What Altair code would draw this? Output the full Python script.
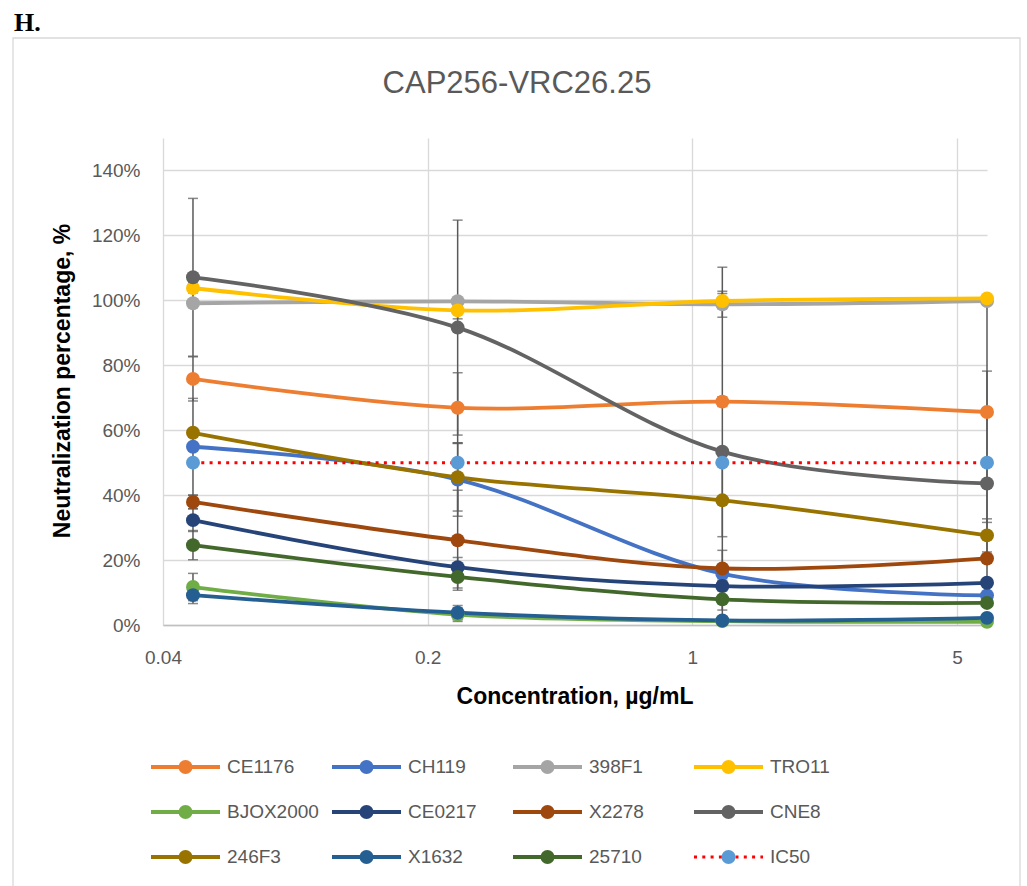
import altair as alt
import pandas as pd

# ---------------- data ----------------
chart_title = "CAP256-VRC26.25"
panel_label = "H."
x_title = "Concentration, µg/mL"
y_title = "Neutralization percentage, %"

names = ["CE1176", "CH119", "398F1", "TRO11", "BJOX2000", "CE0217",
         "X2278", "CNE8", "246F3", "X1632", "25710", "IC50"]
colors = ["#ED7D31", "#4472C4", "#A5A5A5", "#FFC000", "#70AD47", "#264478",
          "#9E480E", "#636363", "#997300", "#255E91", "#43682B", "#5B9BD5"]

conc = [0.048, 0.24, 1.2, 6]

values = {
    "CE1176":   [75.8, 66.9, 68.8, 65.6],
    "CH119":    [54.9, 44.8, 15.8, 9.1],
    "398F1":    [99.1, 99.7, 98.8, 99.8],
    "TRO11":    [103.8, 96.9, 99.8, 100.6],
    "BJOX2000": [11.7, 3.2, 1.2, 1.0],
    "CE0217":   [32.3, 17.8, 12.0, 13.0],
    "X2278":    [37.9, 26.1, 17.4, 20.5],
    "CNE8":     [107.1, 91.6, 53.4, 43.6],
    "246F3":    [59.2, 45.5, 38.4, 27.6],
    "X1632":    [9.2, 3.8, 1.4, 2.2],
    "25710":    [24.6, 14.8, 7.9, 6.8],
    "IC50":     [50, 50, 50, 50],
}

sds = {
    "CE1176":   [6.8, 10.8, 1.5, 34.0],
    "CH119":    [14.9, 11.3, 2.0, 1.0],
    "398F1":    [1.0, 0.8, 4.0, 1.0],
    "TRO11":    [1.5, 2.6, 2.3, 1.0],
    "BJOX2000": [4.2, 2.1, 0.5, 0.5],
    "CE0217":   [3.5, 3.0, 1.5, 1.0],
    "X2278":    [2.1, 15.4, 5.6, 1.2],
    "CNE8":     [24.3, 33.1, 56.8, 34.6],
    "246F3":    [1.0, 10.4, 11.2, 5.1],
    "X1632":    [2.6, 2.2, 0.5, 0.5],
    "25710":    [4.5, 3.4, 3.3, 1.0],
    "IC50":     [0, 0, 0, 0],
}

x_ticks = [0.04, 0.2, 1, 5]
y_ticks = [0, 0.2, 0.4, 0.6, 0.8, 1.0, 1.2, 1.4]

# ---------------- tables ----------------
rows, caps = [], []
for i, n in enumerate(names):
    for j, c in enumerate(conc):
        v = values[n][j] / 100.0
        sd = sds[n][j] / 100.0
        rows.append(dict(series=n, order=i, conc=c, v=v,
                         lo=max(v - sd, 0.0), hi=min(v + sd, 1.5)))
        if sd > 0:
            for cv in (v - sd, v + sd):
                if 0 <= cv <= 1.5:
                    caps.append(dict(series=n, conc=c, cap=cv))
df = pd.DataFrame(rows)
cap_df = pd.DataFrame(caps)
err_df = df[df.series != "IC50"]
leg_df = pd.DataFrame({"series": names,
                       "col": [i % 4 for i in range(len(names))],
                       "row": [i // 4 for i in range(len(names))]})

FONT = "Liberation Sans"
GREY_TXT = "#595959"
ERR = "#595959"

x_enc = alt.X("conc:Q",
              scale=alt.Scale(type="log", base=5, domain=[0.04, 6], nice=False),
              axis=alt.Axis(values=x_ticks, format="~g", title=None, grid=True,
                            gridColor="#D9D9D9", gridWidth=1.3, ticks=False,
                            domainColor="#BFBFBF", domainWidth=1.5,
                            labelFont=FONT, labelFontSize=19, labelColor=GREY_TXT,
                            labelPadding=23, labelFlush=False))
y_axis = alt.Axis(values=y_ticks, format=".0%", title=None, grid=True,
                  gridColor="#D9D9D9", gridWidth=1.3, ticks=False, domain=False,
                  labelFont=FONT, labelFontSize=19, labelColor=GREY_TXT,
                  labelPadding=23, labelFlush=False)
y_scale = alt.Scale(domain=[0, 1.5], nice=False)
color_enc = alt.Color("series:N", scale=alt.Scale(domain=names, range=colors),
                      legend=None)

err_rules = alt.Chart(err_df).mark_rule(color=ERR, strokeWidth=1.5).encode(
    x=x_enc, y=alt.Y("lo:Q", scale=y_scale, axis=y_axis), y2="hi:Q")
err_caps = alt.Chart(cap_df).mark_tick(orient="horizontal", size=10, thickness=1.5,
                                       color=ERR).encode(
    x="conc:Q", y="cap:Q")
lines = alt.Chart(df[df.series != "IC50"]).mark_line(
    interpolate="cardinal", strokeWidth=3.8).encode(
    x="conc:Q", y="v:Q", color=color_enc, detail="series:N")
ic50_line = alt.Chart(df[df.series == "IC50"]).mark_line(
    color="#FF0000", strokeWidth=3, strokeDash=[3, 5.3]).encode(
    x="conc:Q", y="v:Q")
points = alt.Chart(df).mark_circle(size=195, opacity=1).encode(
    x="conc:Q", y="v:Q", color=color_enc, order="order:Q")

one = pd.DataFrame({"t": [chart_title], "h": [panel_label],
                    "xt": [x_title], "yt": [y_title]})
frame = alt.Chart(one).mark_rect(filled=False, stroke="#D9D9D9", strokeWidth=1.3).encode(
    x=alt.value(-150), x2=alt.value(857), y=alt.value(-100), y2=alt.value(800))
title = alt.Chart(one).mark_text(font=FONT, fontSize=31, color=GREY_TXT,
                                 align="center", baseline="alphabetic").encode(
    x=alt.value(354), y=alt.value(-45), text="t:N")
hlabel = alt.Chart(one).mark_text(font="Liberation Serif", fontSize=26, fontWeight="bold",
                                  color="black", align="left", baseline="alphabetic").encode(
    x=alt.value(-149), y=alt.value(-107), text="h:N")
xtitle = alt.Chart(one).mark_text(font=FONT, fontSize=23, fontWeight="bold", color="black",
                                  align="center", baseline="alphabetic").encode(
    x=alt.value(412), y=alt.value(566), text="xt:N")
ytitle = alt.Chart(one).mark_text(font=FONT, fontSize=23, fontWeight="bold", color="black",
                                  align="center", baseline="alphabetic", angle=270).encode(
    x=alt.value(-93), y=alt.value(243), text="yt:N")

main = alt.layer(frame, err_rules, err_caps, lines, ic50_line, points,
                 title, hlabel, xtitle, ytitle)

# ---------------- legend ----------------
leg_x = alt.X("col:Q", scale=alt.Scale(domain=[0, 3], range=[-12, 531]), axis=None)
leg_y = alt.Y("row:Q", scale=alt.Scale(domain=[0, 2], range=[629, 719]), axis=None)
leg_lines = alt.Chart(leg_df[leg_df.series != "IC50"]).mark_rule(
    strokeWidth=3.8, x2Offset=69).encode(x=leg_x, x2="col:Q", y=leg_y, color=color_enc)
leg_ic50 = alt.Chart(leg_df[leg_df.series == "IC50"]).mark_rule(
    strokeWidth=3, color="#FF0000", strokeDash=[3, 5.3], x2Offset=69).encode(
    x=leg_x, x2="col:Q", y=leg_y)
leg_pts = alt.Chart(leg_df).mark_circle(size=195, opacity=1, xOffset=34.5).encode(
    x=leg_x, y=leg_y, color=color_enc)
leg_txt = alt.Chart(leg_df).mark_text(font=FONT, fontSize=19, color=GREY_TXT,
                                      align="left", baseline="middle", xOffset=76).encode(
    x=leg_x, y=leg_y, text="series:N")
legend = alt.layer(leg_lines, leg_ic50, leg_pts, leg_txt)

chart = alt.layer(main, legend).resolve_scale(x="independent", y="independent").properties(
    width=824, height=487,
    autosize=alt.AutoSizeParams(type="none"),
    padding={"left": 163, "top": 138, "right": 40, "bottom": 261},
    background="white",
).configure_view(stroke=None)

chart.save("out.html", embed_options={"renderer": "svg", "actions": False})
